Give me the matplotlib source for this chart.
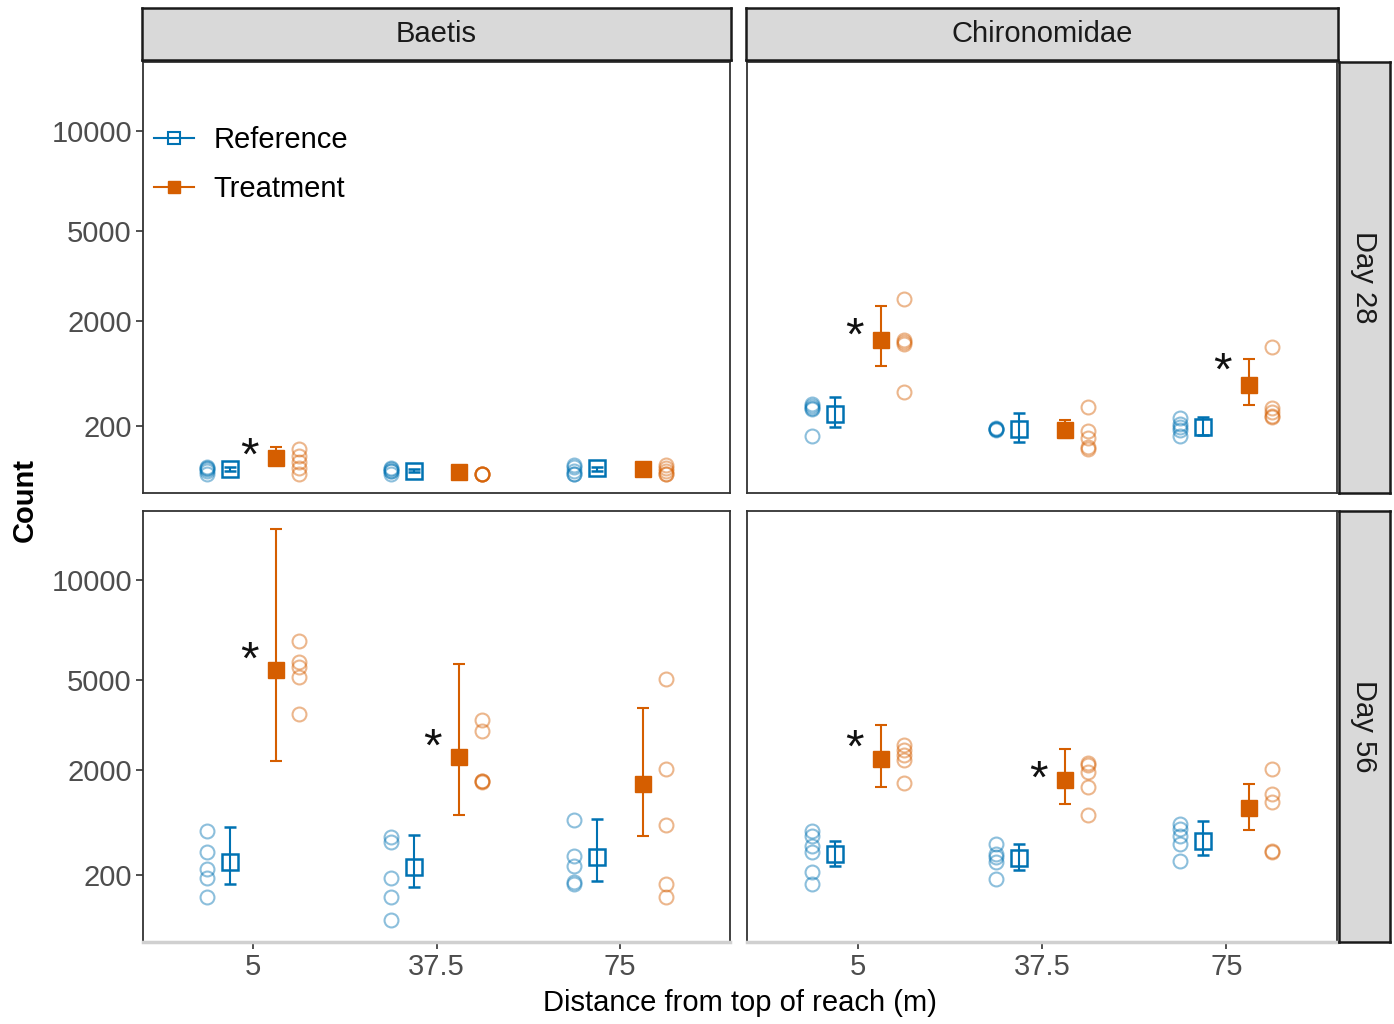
import numpy as np
import matplotlib
matplotlib.use("Agg")
import matplotlib.pyplot as plt
from matplotlib.lines import Line2D

plt.rcParams['font.family'] = ['Liberation Sans', 'DejaVu Sans']

# data
distances = ["5", "37.5", "75"]
taxa = ["Baetis", "Chironomidae"]
days = ["Day 28", "Day 56"]

# Baetis, Day 28
baetis_d28_ref_pts = [[0, 1, 2, 3, 4], [0, 1, 1, 2, 3], [0, 0, 1, 5, 7]]
baetis_d28_ref_mean = [2, 1, 3]
baetis_d28_ref_lo = [1, 0.5, 1]
baetis_d28_ref_hi = [4, 2, 5]
baetis_d28_trt_pts = [[53, 28, 12, 3, 0], [0, 0, 0, 0, 0], [0, 0, 1, 3, 7]]
baetis_d28_trt_mean = [22, 0.3, 2]
baetis_d28_trt_lo = [8, 0.1, 1]
baetis_d28_trt_hi = [65, 0.6, 3]
baetis_d28_star = [80, None, None]

# Chironomidae, Day 28
chiro_d28_ref_pts = [[420, 400, 370, 360, 123], [165, 170, 172, 175, 178], [266, 213, 190, 165, 123]]
chiro_d28_ref_mean = [306, 172, 188]
chiro_d28_ref_lo = [188, 87, 130]
chiro_d28_ref_hi = [503, 316, 276]
chiro_d28_trt_pts = [[2603, 1526, 1480, 1436, 571], [381, 157, 110, 62, 55], [1371, 370, 330, 276, 290]]
chiro_d28_trt_mean = [1526, 165, 673]
chiro_d28_trt_lo = [991, 110, 405]
chiro_d28_trt_hi = [2400, 248, 1124]
chiro_d28_star = [1930, None, 1140]

# Baetis, Day 56
baetis_d56_ref_pts = [[715, 426, 246, 171, 57], [625, 554, 171, 57, 1], [897, 379, 275, 142, 128]]
baetis_d56_ref_mean = [314, 265, 368]
baetis_d56_ref_lo = [128, 110, 149]
baetis_d56_ref_hi = [779, 654, 914]
baetis_d56_trt_pts = [[6768, 5801, 5580, 5156, 3727], [3517, 3148, 1728, 1728, 1700], [5073, 2030, 812, 128, 57]]
baetis_d56_trt_mean = [5450, 2355, 1633]
baetis_d56_trt_lo = [2245, 985, 640]
baetis_d56_trt_hi = [13184, 5712, 3943]
baetis_d56_star = [6450, 3030, None]

# Chironomidae, Day 56
chiro_d56_ref_pts = [[715, 640, 501, 426, 220, 129], [528, 402, 368, 314, 164], [828, 747, 640, 528, 324]]
chiro_d56_ref_mean = [402, 357, 568]
chiro_d56_ref_lo = [275, 237, 391]
chiro_d56_ref_hi = [568, 528, 879]
chiro_d56_trt_pts = [[2707, 2559, 2413, 2273, 1680], [2190, 2136, 1952, 1563, 985], [2030, 1406, 1237, 438, 430]]
chiro_d56_trt_mean = [2300, 1752, 1118]
chiro_d56_trt_lo = [1563, 1197, 730]
chiro_d56_trt_hi = [3346, 2588, 1656]
chiro_d56_star = [3000, 2090, None]

yticks = [200, 2000, 5000, 10000]

ref_col = '#0072B2'
trt_col = '#D55E00'

panels = [
    (0, 0, baetis_d28_ref_pts, baetis_d28_ref_mean, baetis_d28_ref_lo, baetis_d28_ref_hi,
     baetis_d28_trt_pts, baetis_d28_trt_mean, baetis_d28_trt_lo, baetis_d28_trt_hi, baetis_d28_star),
    (0, 1, chiro_d28_ref_pts, chiro_d28_ref_mean, chiro_d28_ref_lo, chiro_d28_ref_hi,
     chiro_d28_trt_pts, chiro_d28_trt_mean, chiro_d28_trt_lo, chiro_d28_trt_hi, chiro_d28_star),
    (1, 0, baetis_d56_ref_pts, baetis_d56_ref_mean, baetis_d56_ref_lo, baetis_d56_ref_hi,
     baetis_d56_trt_pts, baetis_d56_trt_mean, baetis_d56_trt_lo, baetis_d56_trt_hi, baetis_d56_star),
    (1, 1, chiro_d56_ref_pts, chiro_d56_ref_mean, chiro_d56_ref_lo, chiro_d56_ref_hi,
     chiro_d56_trt_pts, chiro_d56_trt_mean, chiro_d56_trt_lo, chiro_d56_trt_hi, chiro_d56_star),
]

W, H = 1394, 1024
FS = 21
fig = plt.figure(figsize=(W / 100, H / 100), dpi=100)


def px_axes(x0, y0, x1, y1):
    # axes from pixel box (top-left origin)
    return fig.add_axes([x0 / W, 1 - y1 / H, (x1 - x0) / W, (y1 - y0) / H])


def fwd(v):
    v = np.asarray(v, dtype=float)
    return np.sign(v) * np.sqrt(np.abs(v))


def inv(v):
    v = np.asarray(v, dtype=float)
    return np.sign(v) * v ** 2


col_x = [(143, 730), (747, 1337)]
row_y = [(62, 493), (511, 942)]
xs = np.arange(1, len(distances) + 1)

for r, c, rp, rm, rlo, rhi, tp, tm, tlo, thi, star in panels:
    ax = px_axes(col_x[c][0], row_y[r][0], col_x[c][1], row_y[r][1])
    ax.set_yscale('function', functions=(fwd, inv))
    for i, x in enumerate(xs):
        ax.plot([x - 0.25] * len(rp[i]), rp[i], 'o', mfc='none', mec=ref_col,
                alpha=0.45, ms=10, mew=1.5, zorder=2)
        ax.plot([x + 0.25] * len(tp[i]), tp[i], 'o', mfc='none', mec=trt_col,
                alpha=0.45, ms=10, mew=1.5, zorder=2)
        if star[i] is not None:
            ax.annotate('*', (x - 0.02, star[i]), xytext=(0, -19), textcoords='offset points',
                        ha='center', va='baseline', fontsize=34, color='#111111')
    rm_a = np.array(rm, dtype=float)
    tm_a = np.array(tm, dtype=float)
    ax.errorbar(xs - 0.125, rm_a, yerr=[rm_a - np.array(rlo), np.array(rhi) - rm_a],
                fmt='s', color=ref_col, mfc='none', mec=ref_col, ms=11, mew=1.8,
                elinewidth=1.5, capsize=4, capthick=1.5, zorder=3)
    ax.errorbar(xs + 0.125, tm_a, yerr=[tm_a - np.array(tlo), np.array(thi) - tm_a],
                fmt='s', color=trt_col, mfc=trt_col, mec=trt_col, ms=11,
                elinewidth=1.5, capsize=4, capthick=1.5, zorder=3)

    ax.set_xlim(0.4, 3.6)
    ax.set_ylim(-30, 14420)
    ax.set_yticks(yticks)
    ax.set_xticks(xs)
    ax.yaxis.set_minor_locator(matplotlib.ticker.NullLocator())
    ax.tick_params(axis='both', labelsize=FS, labelcolor='#4D4D4D', color='#333333',
                   length=5, width=1.2, pad=3)
    if c == 0:
        ax.set_yticklabels([str(t) for t in yticks])
    else:
        ax.tick_params(axis='y', left=False, labelleft=False)
    if r == 1:
        ax.set_xticklabels(distances)
    else:
        ax.tick_params(axis='x', bottom=False, labelbottom=False)
    for s in ax.spines.values():
        s.set_color('#333333')
        s.set_linewidth(1.3)
    if r == 1:
        ax.spines['bottom'].set_color('#D0D0D0')
        ax.spines['bottom'].set_linewidth(2.5)

    if r == 0 and c == 0:
        handles = [
            Line2D([], [], color=ref_col, marker='s', mfc='none', mec=ref_col, ms=9, mew=1.5, lw=1.5),
            Line2D([], [], color=trt_col, marker='s', mfc=trt_col, mec=trt_col, ms=9, lw=1.5),
        ]
        ax.legend(handles, ['Reference', 'Treatment'], loc='center left',
                  bbox_to_anchor=(0.018, 0.762), frameon=False, fontsize=FS,
                  borderpad=0, borderaxespad=0, handlelength=1.4,
                  handletextpad=0.65, labelspacing=0.7)

# strips on top
for c, name in enumerate(taxa):
    sax = px_axes(col_x[c][0] - 1, 8, col_x[c][1] + 1, 60)
    sax.set_facecolor('#D9D9D9')
    sax.set_xticks([])
    sax.set_yticks([])
    for s in sax.spines.values():
        s.set_color('#1A1A1A')
        s.set_linewidth(1.8)
    sax.text(0.5, 0.5, name, ha='center', va='center', fontsize=FS, color='#1A1A1A',
             transform=sax.transAxes)

# strips on right
for r, name in enumerate(days):
    sax = px_axes(1339, row_y[r][0], 1390, row_y[r][1])
    sax.set_facecolor('#D9D9D9')
    sax.set_xticks([])
    sax.set_yticks([])
    for s in sax.spines.values():
        s.set_color('#1A1A1A')
        s.set_linewidth(1.8)
    sax.text(0.5, 0.5, name, ha='center', va='center', fontsize=FS, color='#1A1A1A',
             rotation=-90, transform=sax.transAxes)

fig.text(25 / W, 1 - 500 / H, 'Count', rotation=90, ha='center', va='center',
         fontsize=FS, fontweight='bold')
fig.text(740 / W, 1 - 1003 / H, 'Distance from top of reach (m)', ha='center', va='center',
         fontsize=FS)

fig.savefig('out.png', dpi=100)
